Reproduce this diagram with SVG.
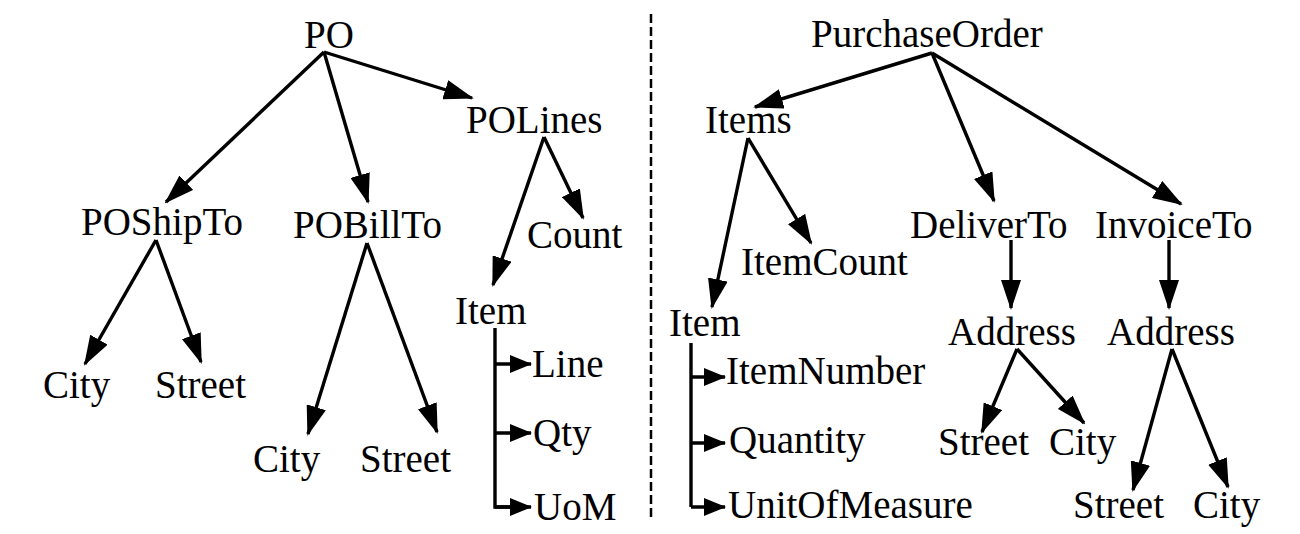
<svg xmlns="http://www.w3.org/2000/svg" width="1300" height="534" viewBox="0 0 1300 534">
<style>
text{font-family:"Liberation Serif","Times New Roman",serif;font-size:39px;fill:#000}
.c line,.c path{stroke:#000;stroke-width:3.4;fill:none}
.a{marker-end:url(#ah)}
.s{marker-end:url(#as)}
</style>
<defs>
<marker id="ah" markerUnits="userSpaceOnUse" markerWidth="30" markerHeight="20" refX="28" refY="10" orient="auto" viewBox="0 0 30 20"><path d="M0,0 L30,10 L0,20 z" fill="#000"/></marker>
<marker id="as" markerUnits="userSpaceOnUse" markerWidth="22" markerHeight="18" refX="21" refY="9" orient="auto" viewBox="0 0 22 18"><path d="M0,0 L22,9 L0,18 z" fill="#000"/></marker>
</defs>
<rect width="1300" height="534" fill="#fff"/>
<line x1="651" y1="14" x2="651" y2="520" stroke="#000" stroke-width="2.5" stroke-dasharray="9 4"/>
<g id="nodes">
<g id="n-PO"><text x="304" y="48">PO</text></g>
<g id="n-POLines"><text x="466" y="133">POLines</text></g>
<g id="n-POShipTo"><text x="81" y="235">POShipTo</text></g>
<g id="n-POBillTo"><text x="293" y="238">POBillTo</text></g>
<g id="n-Count"><text x="527" y="248">Count</text></g>
<g id="n-ItemL"><text x="455" y="324">Item</text></g>
<g id="n-CityL1"><text x="43" y="398">City</text></g>
<g id="n-StreetL1"><text x="155" y="398">Street</text></g>
<g id="n-CityL2"><text x="253" y="472">City</text></g>
<g id="n-StreetL2"><text x="360" y="472">Street</text></g>
<g id="n-Line"><text x="532" y="377">Line</text></g>
<g id="n-Qty"><text x="533" y="446">Qty</text></g>
<g id="n-UoM"><text x="534" y="520">UoM</text></g>
<g id="n-PurchaseOrder"><text x="811" y="47">PurchaseOrder</text></g>
<g id="n-Items"><text x="705" y="133">Items</text></g>
<g id="n-DeliverTo"><text x="910" y="238">DeliverTo</text></g>
<g id="n-InvoiceTo"><text x="1095" y="238">InvoiceTo</text></g>
<g id="n-ItemCount"><text x="741" y="275">ItemCount</text></g>
<g id="n-ItemR"><text x="669" y="336">Item</text></g>
<g id="n-Address1"><text x="948" y="345">Address</text></g>
<g id="n-Address2"><text x="1107" y="345">Address</text></g>
<g id="n-ItemNumber"><text x="726" y="384">ItemNumber</text></g>
<g id="n-Quantity"><text x="729" y="453">Quantity</text></g>
<g id="n-UnitOfMeasure"><text x="728" y="518">UnitOfMeasure</text></g>
<g id="n-StreetR1"><text x="938" y="455">Street</text></g>
<g id="n-CityR1"><text x="1049" y="455">City</text></g>
<g id="n-StreetR2"><text x="1073" y="518">Street</text></g>
<g id="n-CityR2"><text x="1193" y="518">City</text></g>
</g>
<g id="connectors" class="c">
<line class="a" x1="324" y1="52" x2="166" y2="202"/>
<line class="a" x1="324" y1="52" x2="368" y2="202"/>
<line class="a" x1="324" y1="52" x2="472" y2="98"/>
<line class="a" x1="544" y1="137" x2="583" y2="218"/>
<line class="a" x1="544" y1="137" x2="493" y2="285"/>
<line class="a" x1="156" y1="240" x2="85" y2="364"/>
<line class="a" x1="156" y1="240" x2="201" y2="362"/>
<line class="a" x1="367" y1="243" x2="308" y2="434"/>
<line class="a" x1="367" y1="243" x2="437" y2="432"/>
<path d="M495,328 V507 H512"/>
<path class="s" d="M495,507 H531"/>
<path class="s" d="M495,364 H531"/>
<path class="s" d="M495,433 H531"/>
<line class="a" x1="932" y1="53" x2="755" y2="107"/>
<line class="a" x1="932" y1="53" x2="994" y2="201"/>
<line class="a" x1="932" y1="53" x2="1181" y2="204"/>
<line class="a" x1="748" y1="138" x2="811" y2="243"/>
<line class="a" x1="748" y1="138" x2="712" y2="307"/>
<line class="a" x1="1011" y1="240" x2="1011" y2="308"/>
<line class="a" x1="1169" y1="240" x2="1169" y2="308"/>
<line class="a" x1="1017" y1="349" x2="982" y2="432"/>
<line class="a" x1="1017" y1="349" x2="1084" y2="423"/>
<line class="a" x1="1172" y1="349" x2="1133" y2="490"/>
<line class="a" x1="1172" y1="349" x2="1228" y2="487"/>
<path d="M691,343 V507"/>
<path class="s" d="M691,507 H725"/>
<path class="s" d="M691,377 H725"/>
<path class="s" d="M691,443 H725"/>
</g>
</svg>
